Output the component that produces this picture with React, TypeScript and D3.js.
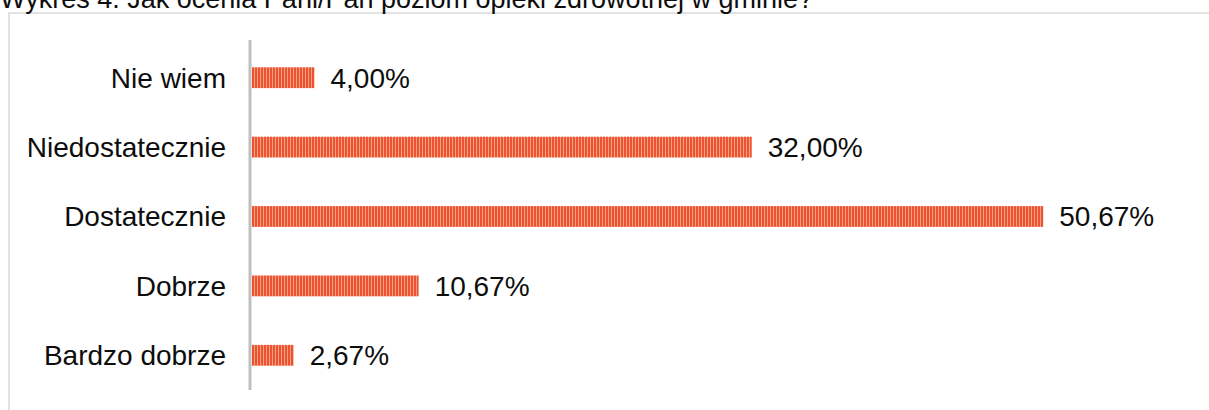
import React, { useEffect, useRef } from 'react';
import * as d3 from 'd3';

const title = 'Wykres 4. Jak ocenia Pani/Pan poziom opieki zdrowotnej w gminie?';
const categories = ['Nie wiem', 'Niedostatecznie', 'Dostatecznie', 'Dobrze', 'Bardzo dobrze'];
const values = [4.0, 32.0, 50.67, 10.67, 2.67];
const valueLabels = ['4,00%', '32,00%', '50,67%', '10,67%', '2,67%'];

const W = 1209;
const H = 410;
const FONT = '"Liberation Sans", Arial, sans-serif';

export default function App() {
  const svgRef = useRef<SVGSVGElement>(null);

  useEffect(() => {
    if (!svgRef.current) return;
    const svg = d3.select(svgRef.current);
    svg.selectAll('*').remove();

    // striped fill for the bars
    const pattern = svg.append('defs')
      .append('pattern')
      .attr('id', 'stripes')
      .attr('patternUnits', 'userSpaceOnUse')
      .attr('width', 3)
      .attr('height', 10);
    pattern.append('rect').attr('width', 3).attr('height', 10).attr('fill', '#ec5431');
    pattern.append('rect').attr('x', 2).attr('width', 1).attr('height', 10).attr('fill', '#f6a084');

    // chart frame (runs off the right and bottom edges)
    svg.append('rect')
      .attr('x', 9)
      .attr('y', 13)
      .attr('width', 1400)
      .attr('height', 600)
      .attr('fill', 'none')
      .attr('stroke', '#d9d9d9')
      .attr('stroke-width', 1.5);

    // title, clipped at the top as in the source
    svg.append('text')
      .attr('x', 0)
      .attr('y', 8)
      .style('font-family', FONT)
      .style('font-size', '27px')
      .style('fill', '#0d0d0d')
      .text(title);

    // Scales
    const xScale = d3.scaleLinear().domain([0, 60]).range([252, 1189]);
    const yScale = d3.scaleBand<string>()
      .domain(categories)
      .range([43, 390])
      .paddingInner(0.7)
      .paddingOuter(0.35);

    const rows = categories.map((c, i) => ({ c, v: values[i], label: valueLabels[i] }));

    svg.selectAll('.bar')
      .data(rows)
      .enter()
      .append('rect')
      .attr('class', 'bar')
      .attr('x', xScale(0))
      .attr('y', d => yScale(d.c)!)
      .attr('width', d => xScale(d.v) - xScale(0))
      .attr('height', yScale.bandwidth())
      .attr('fill', 'url(#stripes)');

    // axis line
    svg.append('line')
      .attr('x1', 250)
      .attr('x2', 250)
      .attr('y1', 40)
      .attr('y2', 390)
      .attr('stroke', '#bfbfbf')
      .attr('stroke-width', 3);

    // category labels
    svg.selectAll('.cat')
      .data(rows)
      .enter()
      .append('text')
      .attr('class', 'cat')
      .attr('x', 226)
      .attr('y', d => yScale(d.c)! + yScale.bandwidth() / 2)
      .attr('dy', '0.35em')
      .attr('text-anchor', 'end')
      .style('font-family', FONT)
      .style('font-size', '28px')
      .style('fill', '#0d0d0d')
      .text(d => d.c);

    // value labels
    svg.selectAll('.val')
      .data(rows)
      .enter()
      .append('text')
      .attr('class', 'val')
      .attr('x', d => xScale(d.v) + 16)
      .attr('y', d => yScale(d.c)! + yScale.bandwidth() / 2)
      .attr('dy', '0.35em')
      .style('font-family', FONT)
      .style('font-size', '28px')
      .style('fill', '#0d0d0d')
      .text(d => d.label);
  }, []);

  return (
    <svg
      ref={svgRef}
      width={W}
      height={H}
      style={{ position: 'absolute', left: 0, top: 0, background: '#fff' }}
    />
  );
}
